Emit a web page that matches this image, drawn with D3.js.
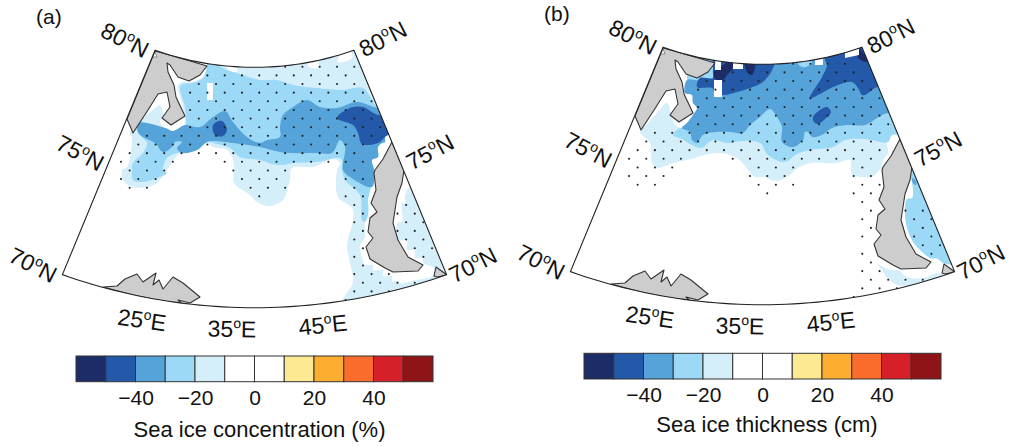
<!DOCTYPE html>
<html>
<head>
<meta charset="utf-8">
<script src="https://cdn.jsdelivr.net/npm/d3@7"></script>
<style>
  body { margin: 0; background: #fff; }
  text { font-family: "Liberation Sans", Arial, sans-serif; fill: #111; }
</style>
</head>
<body>
<svg id="chart" width="1009" height="446"></svg>
<script>
// colour classes of the shared legend, -60 to 60 in steps of 10
const binColors = ["#1c2c66", "#2359a8", "#55a3d8", "#9bd9f7", "#d4eefa", "#ffffff",
                   "#ffffff", "#fde992", "#fdae31", "#f96c2b", "#d51f29", "#8e1418"];
const binEdges = d3.range(-60, 60, 10);
const tickLabels = [-40, -20, 0, 20, 40];
const latLabels = ["80", "80", "75", "75", "70", "70"];
const lonLabels = ["25", "35", "45"];

// outlines are map coordinates, km east / north of the panel centre
const svalbard = [[-396,476],[-296,448],[-188,416],[-216,380],[-260,356],[-304,372],[-336,420],[-348,428],[-344,392],[-320,340],[-312,292],[-276,216],[-332,180],[-368,208],[-336,252],[-348,312],[-384,304],[-424,240],[-484,148],[-508,204]];
const kola = [[-604,-468],[-548,-464],[-516,-436],[-468,-416],[-444,-448],[-392,-412],[-404,-460],[-380,-440],[-364,-476],[-324,-428],[-284,-452],[-216,-508],[-256,-532],[-304,-520],[-288,-536],[-348,-528],[-484,-500]];
const novaya = [[552,112],[600,0],[592,-52],[572,-108],[556,-212],[576,-280],[616,-348],[676,-380],[656,-404],[556,-408],[524,-392],[464,-356],[448,-308],[476,-272],[456,-248],[464,-192],[492,-168],[468,-132],[488,-80],[480,-12],[484,0],[516,44]];
const islet = [[728,-388],[772,-420],[732,-428],[720,-424]];
const nearPole = [[-404,452],[-396,472],[-388,452]];

// panel (a), sea ice concentration
const concMinus10 = [[-188,440],[-108,440],[-108,404],[-68,392],[-68,440],[216,440],[216,416],[256,408],[256,460],[336,460],[336,432],[392,448],[392,500],[584,500],[584,140],[536,140],[524,132],[524,112],[512,108],[496,92],[496,52],[472,40],[480,0],[476,-40],[456,-120],[460,-160],[444,-200],[444,-268],[424,-300],[432,-352],[444,-380],[476,-380],[476,-400],[516,-400],[516,-424],[552,-424],[552,-444],[580,-444],[580,-452],[652,-440],[712,-424],[720,-392],[676,-372],[676,-352],[644,-352],[644,-320],[612,-320],[612,-280],[576,-280],[576,-208],[592,-208],[592,-132],[604,-132],[604,-100],[624,-68],[684,-68],[864,-480],[352,-620],[352,-528],[396,-448],[384,-372],[372,-300],[396,-200],[392,-152],[336,-108],[332,0],[344,28],[316,44],[236,12],[152,8],[144,-40],[136,-68],[116,-120],[64,-144],[12,-128],[-16,-100],[-80,-52],[-80,0],[-84,40],[-108,80],[-164,92],[-188,108],[-228,92],[-296,68],[-348,0],[-388,-52],[-428,-68],[-488,-68],[-524,-40],[-528,0],[-508,12],[-488,128],[-496,148],[-464,188],[-396,248],[-376,260],[-364,220],[-376,192],[-356,168],[-324,156],[-276,180],[-276,192],[-284,252],[-296,292],[-304,340],[-288,352],[-248,352],[-204,372],[-188,416]];
const concMinus20 = [[-188,440],[-116,404],[-56,384],[24,360],[92,360],[156,340],[252,328],[356,320],[436,328],[496,252],[564,252],[564,140],[536,140],[524,132],[524,112],[512,108],[496,92],[496,52],[472,40],[480,0],[476,-40],[456,-120],[456,-180],[444,-208],[432,-200],[424,-100],[364,-40],[352,0],[352,40],[336,48],[252,32],[156,28],[116,20],[72,24],[24,40],[-56,52],[-96,88],[-164,108],[-188,112],[-228,80],[-308,68],[-348,48],[-364,0],[-348,-12],[-388,-32],[-444,-48],[-484,-40],[-488,0],[-484,28],[-444,68],[-428,108],[-464,148],[-464,188],[-356,168],[-324,156],[-276,180],[-272,200],[-276,252],[-288,292],[-296,332],[-284,344],[-248,348],[-204,368],[-188,416]];
const concMinus30 = [[-464,188],[-356,168],[-324,156],[-276,180],[-216,172],[-164,212],[-116,236],[-84,192],[-28,132],[24,108],[52,120],[104,132],[104,172],[116,220],[156,252],[212,280],[264,252],[332,248],[412,272],[496,248],[564,248],[564,140],[536,140],[524,132],[524,112],[512,108],[496,92],[496,52],[472,40],[480,0],[472,-68],[384,-28],[356,0],[364,92],[344,120],[312,68],[252,68],[144,68],[104,72],[24,92],[-84,108],[-164,116],[-188,112],[-228,80],[-288,68],[-308,88],[-288,112],[-316,112],[-328,92],[-364,72],[-396,108],[-444,132],[-464,152]];
const concMinus40 = [[332,208],[384,248],[436,252],[496,220],[564,220],[564,140],[536,140],[496,108],[432,104],[416,148],[396,180]];
const concMinus40b = [[-164,180],[-128,196],[-108,160],[-124,136],[-156,140]];
const concMissing = [[-188,348],[-164,348],[-164,280],[-188,280]];
// significant grid points: row, first column, last column (every second column)
const concDots = [[0,3,11],[1,-6,10],[2,-7,11],[3,-8,12],[4,-7,13],[5,-8,12],[6,-7,13],[7,-8,14],[8,-13,13],[9,-14,12],[10,-15,11],[11,-16,-10],[11,-4,12],[12,-15,-11],[12,-3,3],[12,11,11],[13,-16,-12],[13,-2,2],[13,10,12],[14,-15,-13],[14,-1,3],[14,11,11],[15,0,0],[15,10,12],[16,11,11],[16,17,17],[17,12,12],[17,16,18],[18,11,11],[18,17,19],[19,12,12],[19,16,18],[20,11,11],[20,17,19],[21,12,12],[21,18,20],[22,11,11],[22,19,19],[23,12,12],[24,11,15],[25,12,18],[26,11,15],[27,10,10]];

// panel (b), sea ice thickness
const thickStairs = [[-300,348],[-308,296],[-280,288],[-276,256],[-260,236],[-276,208],[-300,176],[-320,156]];
const thickMinus10 = [[-488,140],[-448,96],[-440,16],[-420,-4],[-356,16],[-300,28],[-180,56],[-100,36],[-56,-12],[-28,-40],[4,-40],[60,-56],[112,-32],[132,-12],[192,16],[300,16],[352,28],[360,-32],[404,-40],[440,-40],[464,-20],[476,-4],[484,28],[504,56],[500,100],[524,128],[612,128],[612,508],[-288,508],...thickStairs,[-328,156],[-348,168],[-360,196],[-380,256],[-420,216],[-456,176]];
const thickMinus10South = [[460,-384],[484,-400],[512,-412],[544,-412],[580,-440],[644,-444],[704,-424],[724,-432],[672,-452],[580,-476],[540,-472],[500,-444],[480,-412]];
const thickMinus20 = [[-356,128],[-320,112],[-280,88],[-244,76],[-196,108],[-140,96],[-76,104],[-8,96],[24,48],[92,20],[140,52],[192,68],[284,80],[332,108],[412,112],[504,100],[520,128],[612,128],[612,508],[-288,508],...thickStairs,[-328,156]];
const thickMinus20East = [[604,-92],[600,-124],[580,-128],[572,-184],[580,-244],[604,-300],[632,-332],[672,-364],[704,-368],[724,-384],[852,-384],[672,-12],[600,-20]];
const thickMinus30 = [[-288,140],[-280,108],[-260,96],[-236,128],[-180,140],[-128,140],[-76,136],[-48,168],[-8,200],[32,232],[60,200],[80,160],[80,100],[124,80],[164,108],[172,140],[184,140],[200,120],[240,128],[280,156],[340,168],[412,168],[480,208],[508,216],[592,216],[592,508],[-160,508],[-160,388],[-196,388],[-196,356],[-248,356],[-256,348],...thickStairs];
const thickMinus30East = [[600,-44],[616,-56],[616,-72],[604,-64]];
const thickMinus40 = [[-260,320],[-200,316],[-184,300],[-156,288],[-100,300],[-48,316],[4,340],[44,396],[52,448],[-188,448],[-196,388],[-196,356],[-248,356]];
const thickMinus40Right = [[252,428],[260,408],[240,360],[192,276],[240,296],[284,320],[360,340],[384,316],[400,288],[412,288],[460,320],[512,320],[512,508],[252,508]];
const thickMinus40Blob = [[204,200],[232,228],[260,240],[276,220],[252,192],[224,172],[208,180]];
const thickMinus50 = [[-188,388],[-156,408],[-116,428],[-116,396],[-140,368],[-156,348],[-192,356]];
const thickMinus50Mid = [[-68,428],[-28,428],[-40,368],[-60,380]];
const thickMinus50Corner = [[380,484],[424,420],[384,436]];
const thickMinus20Top = [[132,440],[152,404],[175,400],[200,420]];
const thickMissing = [
  [[-188,440],[-164,440],[-164,388],[-188,388]],
  [[-192,348],[-160,348],[-160,280],[-192,280]],
  [[-116,428],[-76,428],[-76,392],[-116,392]],
  [[212,436],[244,436],[244,408],[212,408]],
  [[332,436],[332,470],[388,490],[388,448]]
];
const thickDots = [[0,3,9],[1,-6,10],[2,-7,11],[3,-8,12],[4,-7,13],[5,-8,12],[6,-7,13],[7,-8,14],[8,-13,13],[9,-14,12],[10,-15,13],[11,-16,-10],[11,-4,12],[12,-15,-11],[12,-1,3],[12,11,11],[13,-16,-12],[13,-2,2],[13,10,12],[14,-15,-13],[14,-1,3],[14,11,13],[15,0,0],[15,10,12],[16,11,11],[17,12,12],[17,16,18],[18,11,11],[18,17,19],[19,12,12],[19,18,18],[20,11,11],[20,17,19],[21,18,20],[22,11,11],[22,19,19],[23,12,12],[24,11,13],[25,12,18],[26,11,15],[27,10,10]];

const svg = d3.select("#chart");

// map scales, 4 km to the pixel
const xMap = d3.scaleLinear([-1000, 1000], [-250, 250]);
const yMap = d3.scaleLinear([-1000, 1000], [250, -250]);
const radius = d3.scaleLinear([70, 80], [2144, 1110]);
const bearing = d3.scaleLinear([10, 60], [-0.3665, 0.3665]);
const poleNorth = 1443, squash = 0.93, centreEast = 2;
const gridStep = 34.56, gridEast = 21, gridNorth = 413;

function graticulePoint(lon, lat) {
  const r = radius(lat), a = bearing(lon);
  return [centreEast + r * Math.sin(a), poleNorth - squash * r * Math.cos(a)];
}

const outline = d3.line().x((d) => xMap(d[0])).y((d) => yMap(d[1]));
// contour bands are smooth in the original, land and masks are not
const contour = d3.line().x((d) => xMap(d[0])).y((d) => yMap(d[1]))
  .curve(d3.curveCatmullRomClosed.alpha(0.5));
const lons = d3.range(10, 60.5, 1);
const framePoints = [
  ...lons.map((lon) => graticulePoint(lon, 80)),
  ...lons.slice().reverse().map((lon) => graticulePoint(lon, 70))
];

function drawPanel(id, ox, oy, tag, layers, dotRows) {
  const g = svg.append("g").attr("transform", `translate(${ox},${oy})`);
  svg.append("clipPath").attr("id", id)
    .append("path").attr("d", outline(framePoints) + "Z");

  const ice = g.append("g").attr("clip-path", `url(#${id})`);
  layers.forEach(([points, color]) => {
    const d = color === "#fff" ? outline(points) + "Z" : contour(points);
    ice.append("path").attr("d", d).attr("fill", color);
  });

  const dots = [];
  dotRows.forEach(([row, first, last]) => {
    d3.range(first, last + 1, 2).forEach((col) => dots.push([col, row]));
  });
  ice.selectAll("circle").data(dots).join("circle")
    .attr("cx", (d) => xMap(gridEast + d[0] * gridStep))
    .attr("cy", (d) => yMap(gridNorth - d[1] * gridStep))
    .attr("r", 1.05)
    .attr("fill", "#222");

  [svalbard, kola, novaya, islet].forEach((land) => {
    ice.append("path").attr("d", outline(land) + "Z")
      .attr("fill", "#cdcdcd").attr("stroke", "#333").attr("stroke-width", 1.1)
      .attr("stroke-linejoin", "round");
  });
  ice.append("path").attr("d", outline(nearPole) + "Z")
    .attr("fill", "#fff").attr("stroke", "#555").attr("stroke-width", 0.6);

  g.append("path").attr("d", outline(framePoints) + "Z")
    .attr("fill", "none").attr("stroke", "#222").attr("stroke-width", 1.1);

  // rim labels, centred on their own rotated box
  const latPlaces = [[-129, -130, 27], [129, -131, -27], [-174, -17, 28], [176, -18, -28], [-221, 95, 27], [219, 95, -27]];
  latPlaces.forEach(([dx, dy, rot], i) => {
    rimLabel(g, dx, dy, rot, latLabels[i], "N");
  });
  const lonPlaces = [[-112, 150, 8], [-22, 159, 1], [69, 155, -6]];
  lonPlaces.forEach(([dx, dy, rot], i) => {
    rimLabel(g, dx, dy, rot, lonLabels[i], "E");
  });

  g.append("text").attr("x", -218).attr("y", -146).attr("font-size", 21).text(tag);
}

function rimLabel(g, dx, dy, rot, value, hemi) {
  const t = g.append("text")
    .attr("transform", `translate(${dx},${dy}) rotate(${rot})`)
    .attr("text-anchor", "middle").attr("font-size", 23).attr("y", 8);
  t.append("tspan").text(value);
  t.append("tspan").attr("font-size", 14).attr("dy", -9).text("o");
  t.append("tspan").attr("dy", 9).text(hemi);
}

function drawLegend(ox, oy, title, titleX, titleY) {
  const width = 357, height = 25.7;
  const x = d3.scaleLinear([-60, 60], [0, width]);
  const g = svg.append("g").attr("transform", `translate(${ox},${oy})`);
  g.selectAll("rect").data(binEdges).join("rect")
    .attr("x", (d) => x(d))
    .attr("y", 0)
    .attr("width", x(10) - x(0))
    .attr("height", height)
    .attr("fill", (d, i) => binColors[i])
    .attr("stroke", "#333")
    .attr("stroke-width", 1);

  const axis = g.append("g").attr("transform", `translate(0,${height})`)
    .call(d3.axisBottom(x).tickValues(tickLabels).tickSize(0).tickPadding(8));
  axis.select(".domain").remove();
  axis.selectAll("text")
    .attr("font-family", "Liberation Sans")
    .attr("font-size", 21)
    .style("fill", "#111");

  svg.append("text").attr("x", titleX).attr("y", titleY)
    .attr("text-anchor", "middle").attr("font-size", 22).text(title);
}

drawPanel("clip-a", 254, 170, "(a)", [
  [concMinus10, binColors[4]],
  [concMinus20, binColors[3]],
  [concMinus30, binColors[2]],
  [concMinus40, binColors[1]],
  [concMinus40b, binColors[1]],
  [concMissing, "#fff"]
], concDots);

drawPanel("clip-b", 762, 167, "(b)", [
  [thickMinus10, binColors[4]],
  [thickMinus10South, binColors[4]],
  [thickMinus20, binColors[3]],
  [thickMinus20East, binColors[3]],
  [thickMinus30, binColors[2]],
  [thickMinus30East, binColors[2]],
  [thickMinus20Top, binColors[3]],
  [thickMinus40, binColors[1]],
  [thickMinus40Right, binColors[1]],
  [thickMinus40Blob, binColors[1]],
  [thickMinus50, binColors[0]],
  [thickMinus50Mid, binColors[0]],
  [thickMinus50Corner, binColors[0]],
  ...thickMissing.map((m) => [m, "#fff"])
], thickDots);

drawLegend(76, 356, "Sea ice concentration (%)", 259.5, 437);
drawLegend(584, 353.3, "Sea ice thickness (cm)", 767, 432);
</script>
</body>
</html>
